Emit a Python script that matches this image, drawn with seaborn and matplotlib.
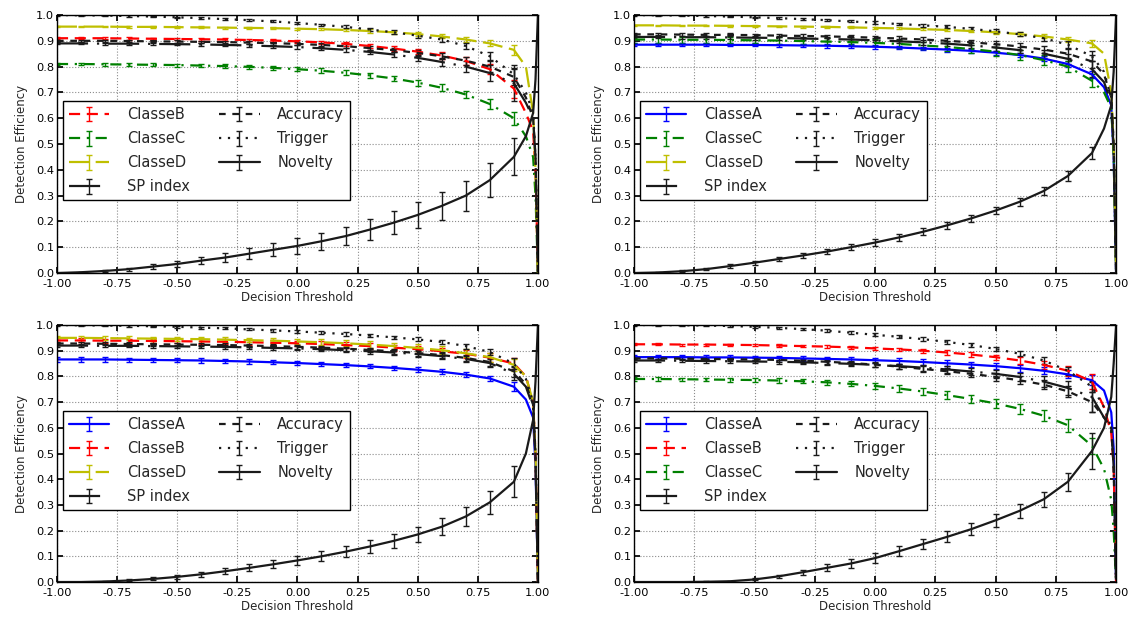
import numpy as np
import matplotlib
matplotlib.use("Agg")
import matplotlib.pyplot as plt
import seaborn as sns

# decision thresholds (error bars only on the 0.1 grid, first 20 points)
thr = [-1.0, -0.9, -0.8, -0.7, -0.6, -0.5, -0.4, -0.3, -0.2, -0.1,
       0.0, 0.1, 0.2, 0.3, 0.4, 0.5, 0.6, 0.7, 0.8, 0.9,
       0.95, 0.98, 0.99, 1.0]

# ---- panel 1 (top left): novelty = ClasseA
p1_classeB = [0.910, 0.910, 0.910, 0.909, 0.908, 0.907, 0.906, 0.905, 0.903, 0.901,
              0.898, 0.894, 0.888, 0.880, 0.870, 0.858, 0.843, 0.822, 0.790, 0.715,
              0.62, 0.55, 0.40, 0.0]
p1_classeB_err = [0.004, 0.004, 0.004, 0.004, 0.004, 0.005, 0.005, 0.005, 0.005, 0.005,
                  0.006, 0.006, 0.007, 0.008, 0.009, 0.010, 0.012, 0.015, 0.020, 0.035]
p1_classeC = [0.810, 0.810, 0.809, 0.808, 0.807, 0.806, 0.804, 0.802, 0.799, 0.795,
              0.790, 0.784, 0.776, 0.766, 0.754, 0.738, 0.718, 0.692, 0.655, 0.600,
              0.53, 0.45, 0.30, 0.0]
p1_classeC_err = [0.005, 0.005, 0.005, 0.005, 0.006, 0.006, 0.006, 0.007, 0.007, 0.008,
                  0.008, 0.009, 0.010, 0.010, 0.011, 0.012, 0.013, 0.015, 0.020, 0.025]
p1_classeD = [0.955, 0.955, 0.955, 0.954, 0.954, 0.953, 0.952, 0.951, 0.950, 0.949,
              0.947, 0.945, 0.942, 0.938, 0.933, 0.926, 0.917, 0.905, 0.890, 0.865,
              0.80, 0.62, 0.40, 0.0]
p1_classeD_err = [0.003, 0.003, 0.003, 0.003, 0.003, 0.003, 0.004, 0.004, 0.004, 0.004,
                  0.004, 0.005, 0.005, 0.006, 0.006, 0.007, 0.008, 0.010, 0.012, 0.020]
p1_sp = [0.890, 0.890, 0.889, 0.889, 0.888, 0.887, 0.886, 0.884, 0.882, 0.879,
         0.876, 0.871, 0.865, 0.857, 0.847, 0.834, 0.818, 0.800, 0.775, 0.735,
         0.66, 0.60, 0.45, 0.0]
p1_sp_err = [0.004, 0.004, 0.004, 0.004, 0.005, 0.005, 0.005, 0.005, 0.006, 0.006,
             0.007, 0.007, 0.008, 0.009, 0.010, 0.012, 0.015, 0.020, 0.030, 0.070]
p1_acc = [0.900, 0.900, 0.900, 0.899, 0.898, 0.897, 0.896, 0.895, 0.893, 0.891,
          0.888, 0.884, 0.879, 0.872, 0.864, 0.853, 0.840, 0.823, 0.800, 0.760,
          0.68, 0.60, 0.45, 0.0]
p1_acc_err = [0.004, 0.004, 0.004, 0.004, 0.004, 0.005, 0.005, 0.005, 0.005, 0.006,
              0.006, 0.007, 0.007, 0.008, 0.009, 0.010, 0.012, 0.015, 0.020, 0.030]
p1_trig = [1.000, 0.999, 0.998, 0.996, 0.994, 0.991, 0.988, 0.984, 0.980, 0.975,
           0.969, 0.962, 0.954, 0.944, 0.933, 0.920, 0.905, 0.880, 0.840, 0.770,
           0.70, 0.62, 0.45, 0.0]
p1_trig_err = [0.002, 0.002, 0.002, 0.003, 0.003, 0.003, 0.003, 0.004, 0.004, 0.004,
               0.005, 0.005, 0.006, 0.006, 0.007, 0.008, 0.009, 0.010, 0.015, 0.025]
p1_nov = [0.000, 0.003, 0.008, 0.015, 0.025, 0.035, 0.048, 0.060, 0.075, 0.090,
          0.105, 0.123, 0.143, 0.168, 0.195, 0.225, 0.260, 0.300, 0.360, 0.450,
          0.53, 0.62, 0.75, 1.0]
p1_nov_err = [0.000, 0.002, 0.004, 0.006, 0.010, 0.012, 0.014, 0.017, 0.020, 0.025,
              0.030, 0.033, 0.036, 0.040, 0.045, 0.050, 0.055, 0.058, 0.065, 0.072]

# ---- panel 2 (top right): novelty = ClasseB
p2_classeA = [0.885, 0.885, 0.885, 0.885, 0.884, 0.884, 0.883, 0.882, 0.881, 0.879,
              0.877, 0.874, 0.870, 0.866, 0.861, 0.854, 0.845, 0.831, 0.810, 0.770,
              0.72, 0.65, 0.45, 0.0]
p2_classeA_err = [0.006, 0.006, 0.006, 0.006, 0.006, 0.006, 0.006, 0.006, 0.007, 0.007,
                  0.007, 0.007, 0.007, 0.008, 0.008, 0.008, 0.009, 0.010, 0.011, 0.013]
p2_classeC = [0.905, 0.905, 0.904, 0.904, 0.903, 0.902, 0.901, 0.899, 0.897, 0.895,
              0.892, 0.888, 0.882, 0.876, 0.868, 0.858, 0.845, 0.825, 0.800, 0.745,
              0.70, 0.64, 0.45, 0.0]
p2_classeC_err = [0.012, 0.012, 0.012, 0.012, 0.012, 0.012, 0.012, 0.013, 0.013, 0.013,
                  0.014, 0.014, 0.015, 0.015, 0.016, 0.017, 0.018, 0.020, 0.022, 0.025]
p2_classeD = [0.960, 0.960, 0.959, 0.959, 0.958, 0.957, 0.956, 0.955, 0.954, 0.952,
              0.950, 0.948, 0.945, 0.942, 0.938, 0.933, 0.926, 0.917, 0.905, 0.890,
              0.85, 0.70, 0.50, 0.0]
p2_classeD_err = [0.003, 0.003, 0.003, 0.003, 0.003, 0.003, 0.003, 0.004, 0.004, 0.004,
                  0.004, 0.004, 0.005, 0.005, 0.005, 0.006, 0.007, 0.008, 0.010, 0.015]
p2_sp = [0.915, 0.915, 0.914, 0.914, 0.913, 0.912, 0.911, 0.909, 0.907, 0.905,
         0.902, 0.898, 0.894, 0.889, 0.882, 0.874, 0.864, 0.850, 0.830, 0.790,
         0.74, 0.66, 0.48, 0.0]
p2_sp_err = [0.006, 0.006, 0.006, 0.006, 0.006, 0.007, 0.007, 0.007, 0.007, 0.008,
             0.008, 0.008, 0.009, 0.010, 0.011, 0.012, 0.013, 0.015, 0.020, 0.030]
p2_acc = [0.925, 0.925, 0.924, 0.923, 0.923, 0.922, 0.920, 0.919, 0.917, 0.915,
          0.912, 0.909, 0.905, 0.900, 0.894, 0.887, 0.878, 0.866, 0.850, 0.820,
          0.77, 0.68, 0.50, 0.0]
p2_acc_err = [0.006, 0.006, 0.006, 0.006, 0.006, 0.006, 0.007, 0.007, 0.007, 0.007,
              0.008, 0.008, 0.008, 0.009, 0.010, 0.011, 0.012, 0.014, 0.018, 0.025]
p2_trig = [1.000, 0.999, 0.998, 0.996, 0.994, 0.991, 0.988, 0.984, 0.980, 0.975,
           0.970, 0.965, 0.960, 0.954, 0.946, 0.937, 0.925, 0.910, 0.885, 0.840,
           0.78, 0.68, 0.50, 0.0]
p2_trig_err = [0.002, 0.002, 0.002, 0.003, 0.003, 0.003, 0.003, 0.004, 0.004, 0.004,
               0.005, 0.005, 0.005, 0.006, 0.006, 0.007, 0.008, 0.010, 0.014, 0.020]
p2_nov = [0.000, 0.002, 0.007, 0.015, 0.027, 0.040, 0.054, 0.068, 0.083, 0.100,
          0.118, 0.138, 0.160, 0.185, 0.212, 0.242, 0.276, 0.318, 0.376, 0.465,
          0.56, 0.65, 0.78, 1.0]
p2_nov_err = [0.000, 0.002, 0.003, 0.005, 0.006, 0.008, 0.009, 0.010, 0.011, 0.012,
              0.012, 0.013, 0.013, 0.014, 0.014, 0.015, 0.015, 0.016, 0.018, 0.022]

# ---- panel 3 (bottom left): novelty = ClasseC
p3_classeA = [0.866, 0.866, 0.866, 0.865, 0.864, 0.863, 0.862, 0.860, 0.858, 0.855,
              0.852, 0.848, 0.844, 0.839, 0.833, 0.826, 0.818, 0.807, 0.792, 0.760,
              0.71, 0.64, 0.45, 0.0]
p3_classeA_err = [0.008, 0.008, 0.008, 0.008, 0.008, 0.008, 0.008, 0.008, 0.008, 0.008,
                  0.008, 0.008, 0.008, 0.008, 0.008, 0.009, 0.009, 0.010, 0.011, 0.018]
p3_classeB = [0.940, 0.940, 0.939, 0.939, 0.938, 0.937, 0.936, 0.935, 0.933, 0.931,
              0.929, 0.926, 0.922, 0.918, 0.912, 0.906, 0.898, 0.888, 0.873, 0.850,
              0.80, 0.70, 0.50, 0.0]
p3_classeB_err = [0.008, 0.008, 0.008, 0.008, 0.008, 0.008, 0.009, 0.009, 0.009, 0.009,
                  0.010, 0.010, 0.011, 0.011, 0.012, 0.013, 0.014, 0.015, 0.018, 0.022]
p3_classeD = [0.950, 0.950, 0.949, 0.948, 0.947, 0.946, 0.945, 0.943, 0.941, 0.939,
              0.936, 0.933, 0.929, 0.924, 0.918, 0.911, 0.902, 0.890, 0.875, 0.845,
              0.80, 0.70, 0.50, 0.0]
p3_classeD_err = [0.008, 0.008, 0.008, 0.008, 0.008, 0.008, 0.009, 0.009, 0.009, 0.010,
                  0.010, 0.011, 0.011, 0.012, 0.013, 0.014, 0.015, 0.016, 0.018, 0.022]
p3_sp = [0.920, 0.920, 0.919, 0.919, 0.918, 0.917, 0.916, 0.915, 0.913, 0.911,
         0.909, 0.906, 0.902, 0.898, 0.893, 0.887, 0.879, 0.868, 0.852, 0.810,
         0.76, 0.68, 0.48, 0.0]
p3_sp_err = [0.006, 0.006, 0.006, 0.006, 0.006, 0.006, 0.007, 0.007, 0.007, 0.007,
             0.008, 0.008, 0.008, 0.009, 0.010, 0.011, 0.012, 0.013, 0.016, 0.025]
p3_acc = [0.928, 0.928, 0.927, 0.926, 0.925, 0.924, 0.923, 0.922, 0.920, 0.918,
          0.915, 0.912, 0.908, 0.903, 0.898, 0.891, 0.883, 0.872, 0.856, 0.820,
          0.77, 0.69, 0.49, 0.0]
p3_acc_err = [0.006, 0.006, 0.006, 0.006, 0.006, 0.006, 0.006, 0.007, 0.007, 0.007,
              0.007, 0.008, 0.008, 0.009, 0.009, 0.010, 0.011, 0.012, 0.015, 0.022]
p3_trig = [1.000, 0.999, 0.998, 0.997, 0.995, 0.993, 0.990, 0.987, 0.983, 0.979,
           0.975, 0.970, 0.965, 0.959, 0.952, 0.944, 0.934, 0.918, 0.895, 0.850,
           0.79, 0.70, 0.50, 0.0]
p3_trig_err = [0.002, 0.002, 0.002, 0.003, 0.003, 0.003, 0.004, 0.004, 0.004, 0.005,
               0.005, 0.005, 0.006, 0.006, 0.007, 0.008, 0.009, 0.010, 0.013, 0.020]
p3_nov = [0.000, 0.000, 0.002, 0.006, 0.012, 0.020, 0.030, 0.042, 0.055, 0.069,
          0.084, 0.100, 0.118, 0.138, 0.160, 0.185, 0.215, 0.255, 0.310, 0.390,
          0.50, 0.63, 0.78, 1.0]
p3_nov_err = [0.000, 0.000, 0.002, 0.004, 0.006, 0.008, 0.010, 0.012, 0.014, 0.016,
              0.018, 0.020, 0.022, 0.025, 0.027, 0.030, 0.033, 0.038, 0.045, 0.060]

# ---- panel 4 (bottom right): novelty = ClasseD
p4_classeA = [0.875, 0.875, 0.875, 0.874, 0.874, 0.873, 0.872, 0.870, 0.868, 0.866,
              0.863, 0.860, 0.856, 0.851, 0.846, 0.840, 0.832, 0.822, 0.808, 0.785,
              0.745, 0.66, 0.52, 0.0]
p4_classeA_err = [0.008, 0.008, 0.008, 0.008, 0.008, 0.008, 0.008, 0.009, 0.009, 0.009,
                  0.010, 0.010, 0.010, 0.011, 0.011, 0.012, 0.013, 0.014, 0.016, 0.020]
p4_classeB = [0.925, 0.925, 0.924, 0.924, 0.923, 0.922, 0.920, 0.918, 0.916, 0.913,
              0.909, 0.905, 0.900, 0.893, 0.885, 0.875, 0.862, 0.845, 0.822, 0.780,
              0.68, 0.58, 0.45, 0.0]
p4_classeB_err = [0.004, 0.004, 0.004, 0.004, 0.005, 0.005, 0.005, 0.005, 0.006, 0.006,
                  0.006, 0.007, 0.007, 0.008, 0.009, 0.010, 0.012, 0.015, 0.020, 0.030]
p4_classeC = [0.790, 0.790, 0.789, 0.788, 0.787, 0.786, 0.784, 0.781, 0.777, 0.771,
              0.763, 0.753, 0.741, 0.727, 0.712, 0.695, 0.674, 0.647, 0.610, 0.530,
              0.44, 0.32, 0.20, 0.0]
p4_classeC_err = [0.006, 0.006, 0.006, 0.006, 0.007, 0.007, 0.008, 0.008, 0.009, 0.010,
                  0.012, 0.013, 0.015, 0.016, 0.017, 0.018, 0.020, 0.022, 0.025, 0.030]
p4_sp = [0.862, 0.862, 0.861, 0.860, 0.859, 0.858, 0.857, 0.855, 0.852, 0.849,
         0.845, 0.840, 0.834, 0.827, 0.819, 0.810, 0.798, 0.780, 0.755, 0.720,
         0.64, 0.60, 0.45, 0.0]
p4_sp_err = [0.006, 0.006, 0.006, 0.006, 0.006, 0.007, 0.007, 0.007, 0.008, 0.008,
             0.009, 0.010, 0.011, 0.012, 0.013, 0.015, 0.017, 0.020, 0.028, 0.060]
p4_acc = [0.870, 0.870, 0.869, 0.868, 0.867, 0.866, 0.864, 0.861, 0.857, 0.852,
          0.846, 0.838, 0.829, 0.820, 0.810, 0.798, 0.785, 0.768, 0.742, 0.700,
          0.64, 0.60, 0.45, 0.0]
p4_acc_err = [0.005, 0.005, 0.005, 0.005, 0.006, 0.006, 0.006, 0.007, 0.007, 0.008,
              0.009, 0.010, 0.011, 0.012, 0.013, 0.014, 0.016, 0.018, 0.022, 0.040]
p4_trig = [1.000, 1.000, 0.999, 0.998, 0.996, 0.993, 0.989, 0.984, 0.978, 0.970,
           0.962, 0.954, 0.945, 0.934, 0.922, 0.907, 0.888, 0.862, 0.822, 0.760,
           0.68, 0.60, 0.45, 0.0]
p4_trig_err = [0.002, 0.002, 0.002, 0.003, 0.003, 0.003, 0.004, 0.004, 0.005, 0.005,
               0.006, 0.006, 0.007, 0.007, 0.008, 0.009, 0.010, 0.012, 0.015, 0.022]
p4_nov = [0.000, 0.000, 0.000, 0.001, 0.003, 0.010, 0.022, 0.038, 0.055, 0.072,
          0.093, 0.120, 0.148, 0.176, 0.206, 0.240, 0.277, 0.322, 0.390, 0.510,
          0.60, 0.72, 0.85, 1.0]
p4_nov_err = [0.000, 0.000, 0.000, 0.001, 0.002, 0.004, 0.006, 0.010, 0.014, 0.016,
              0.018, 0.020, 0.020, 0.022, 0.024, 0.026, 0.028, 0.030, 0.035, 0.070]

# line styles per curve (classic matplotlib look)
styles = {
    "ClasseA": dict(color=(0, 0, 1), linestyle="-"),
    "ClasseB": dict(color=(1, 0, 0), linestyle=(0, (5, 3))),
    "ClasseC": dict(color=(0, 0.5, 0), linestyle=(0, (5, 3, 1, 3))),
    "ClasseD": dict(color=(0.75, 0.75, 0), linestyle=(0, (9, 3))),
    "SP index": dict(color="k", linestyle=(0, (14, 4, 1, 4))),
    "Accuracy": dict(color="k", linestyle=(0, (3, 3))),
    "Trigger": dict(color="k", linestyle=(0, (1, 3))),
    "Novelty": dict(color="k", linestyle="-"),
}

panels = [
    [("ClasseB", p1_classeB, p1_classeB_err), ("ClasseC", p1_classeC, p1_classeC_err),
     ("ClasseD", p1_classeD, p1_classeD_err), ("SP index", p1_sp, p1_sp_err),
     ("Accuracy", p1_acc, p1_acc_err), ("Trigger", p1_trig, p1_trig_err),
     ("Novelty", p1_nov, p1_nov_err)],
    [("ClasseA", p2_classeA, p2_classeA_err), ("ClasseC", p2_classeC, p2_classeC_err),
     ("ClasseD", p2_classeD, p2_classeD_err), ("SP index", p2_sp, p2_sp_err),
     ("Accuracy", p2_acc, p2_acc_err), ("Trigger", p2_trig, p2_trig_err),
     ("Novelty", p2_nov, p2_nov_err)],
    [("ClasseA", p3_classeA, p3_classeA_err), ("ClasseB", p3_classeB, p3_classeB_err),
     ("ClasseD", p3_classeD, p3_classeD_err), ("SP index", p3_sp, p3_sp_err),
     ("Accuracy", p3_acc, p3_acc_err), ("Trigger", p3_trig, p3_trig_err),
     ("Novelty", p3_nov, p3_nov_err)],
    [("ClasseA", p4_classeA, p4_classeA_err), ("ClasseB", p4_classeB, p4_classeB_err),
     ("ClasseC", p4_classeC, p4_classeC_err), ("SP index", p4_sp, p4_sp_err),
     ("Accuracy", p4_acc, p4_acc_err), ("Trigger", p4_trig, p4_trig_err),
     ("Novelty", p4_nov, p4_nov_err)],
]

sns.set_theme(style="whitegrid", rc={
    "axes.edgecolor": "black",
    "axes.linewidth": 1.0,
    "grid.color": "0.55",
    "grid.linestyle": ":",
    "grid.linewidth": 0.8,
    "xtick.direction": "in",
    "ytick.direction": "in",
    "xtick.top": True,
    "ytick.right": True,
    "xtick.bottom": True,
    "ytick.left": True,
    "xtick.major.size": 4,
    "ytick.major.size": 4,
    "xtick.color": "black",
    "ytick.color": "black",
})
plt.rcParams["font.family"] = ["DejaVu Sans"]


def plot_panel(ax, curves):
    """Draws efficiency curves with error bars on the 0.1 threshold grid."""
    x = np.array(thr)
    show_err = np.arange(len(x)) < 20
    for label, y, err in curves:
        e = np.concatenate([err, np.zeros(len(x) - len(err))])
        ax.errorbar(x, y, yerr=e, errorevery=show_err, capsize=2.5,
                    elinewidth=1.0, capthick=1.0, lw=1.6, label=label,
                    **styles[label])
    ax.set_xlim(-1, 1)
    ax.set_ylim(0, 1)
    ax.set_xticks(np.arange(-1, 1.01, 0.25))
    ax.set_yticks(np.arange(0, 1.01, 0.1))
    ax.xaxis.set_major_formatter(matplotlib.ticker.FormatStrFormatter("%.2f"))
    ax.yaxis.set_major_formatter(matplotlib.ticker.FormatStrFormatter("%.1f"))
    ax.tick_params(axis="x", labelsize=8.2, pad=4)
    ax.tick_params(axis="y", labelsize=8.2, pad=2)
    ax.set_xlabel("Decision Threshold", fontsize=8.5, labelpad=2)
    ax.set_ylabel("Detection Efficiency", fontsize=8.5, labelpad=6)
    ax.grid(True)
    leg = ax.legend(ncol=2, loc="upper left", bbox_to_anchor=(0.012, 0.665),
                    borderaxespad=0, fontsize=10.5, handlelength=2.8,
                    handletextpad=1.2, columnspacing=2.0, labelspacing=0.62,
                    fancybox=False, framealpha=1, edgecolor="black")
    leg.get_frame().set_linewidth(1.0)


fig = plt.figure(figsize=(11.37, 6.23), dpi=100)
positions = [
    [0.0501, 0.5618, 0.4230, 0.4141],
    [0.5576, 0.5618, 0.4240, 0.4141],
    [0.0501, 0.0658, 0.4230, 0.4125],
    [0.5576, 0.0658, 0.4240, 0.4125],
]
for pos, curves in zip(positions, panels):
    ax = fig.add_axes(pos)
    plot_panel(ax, curves)

fig.savefig("out.png", dpi=100)
